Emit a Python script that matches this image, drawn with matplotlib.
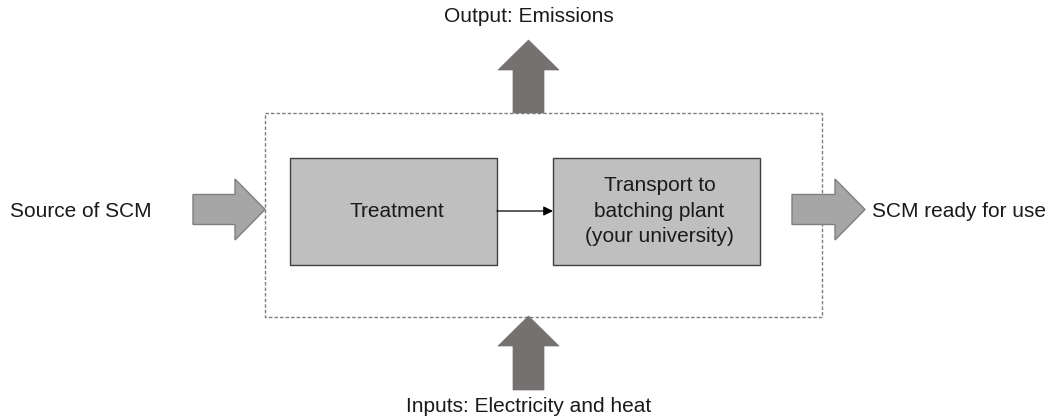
import matplotlib.pyplot as plt
import matplotlib.patches as mpatches

plt.rcParams['font.family'] = ['Liberation Sans', 'DejaVu Sans']

# process boxes: label, left, top, width, height
box_labels = ["Treatment", "Transport to\nbatching plant\n(your university)"]
box_x = [290, 553]
box_y = [158, 158]
box_w = [207, 207]
box_h = [107, 107]

# side labels
side_texts = ["Source of SCM", "SCM ready for use", "Output: Emissions", "Inputs: Electricity and heat"]

fig = plt.figure(figsize=(10.51, 4.19), dpi=100)
ax = fig.add_axes([0, 0, 1, 1])
ax.set_xlim(0, 1051)
ax.set_ylim(419, 0)
ax.axis('off')

# dashed system boundary
ax.add_patch(mpatches.Rectangle((265, 113), 557, 204, fill=False, edgecolor='#7f7f7f',
                                linestyle=(0, (2.5, 1.5)), linewidth=1.0))

for i in range(len(box_labels)):
    ax.add_patch(mpatches.Rectangle((box_x[i], box_y[i]), box_w[i], box_h[i],
                                    facecolor='#bfbfbf', edgecolor='#3f3f3f', linewidth=1.0))
    ax.text(box_x[i] + box_w[i] / 2 + 3, box_y[i] + box_h[i] / 2 - 0.5, box_labels[i],
            ha='center', va='center', fontsize=15, color='#1a1a1a', linespacing=1.42)

# small connector arrow between boxes
ax.annotate("", xy=(553, 211), xytext=(497, 211),
            arrowprops=dict(arrowstyle='-|>', color='black', lw=0.9, mutation_scale=14,
                            shrinkA=0, shrinkB=0))

# big block arrows
side = dict(width=30, head_width=61, head_length=30, length_includes_head=True,
            facecolor='#a6a6a6', edgecolor='#7f7f7f', linewidth=1.0)
ax.add_patch(mpatches.FancyArrow(193, 209.5, 72, 0, **side))
ax.add_patch(mpatches.FancyArrow(792, 209.5, 73, 0, **side))

vert = dict(width=31, head_width=61, head_length=30, length_includes_head=True,
            facecolor='#767171', edgecolor='#767171', linewidth=0.5)
ax.add_patch(mpatches.FancyArrow(528.5, 113, 0, -73, **vert))
ax.add_patch(mpatches.FancyArrow(528.5, 390, 0, -74, **vert))

ax.text(10, 211, side_texts[0], ha='left', va='center', fontsize=15, color='#1a1a1a')
ax.text(872, 211, side_texts[1], ha='left', va='center', fontsize=15, color='#1a1a1a')
ax.text(529, 17, side_texts[2], ha='center', va='center', fontsize=15, color='#1a1a1a')
ax.text(529, 406, side_texts[3], ha='center', va='center', fontsize=15, color='#1a1a1a')

fig.savefig('out.png', dpi=100)
